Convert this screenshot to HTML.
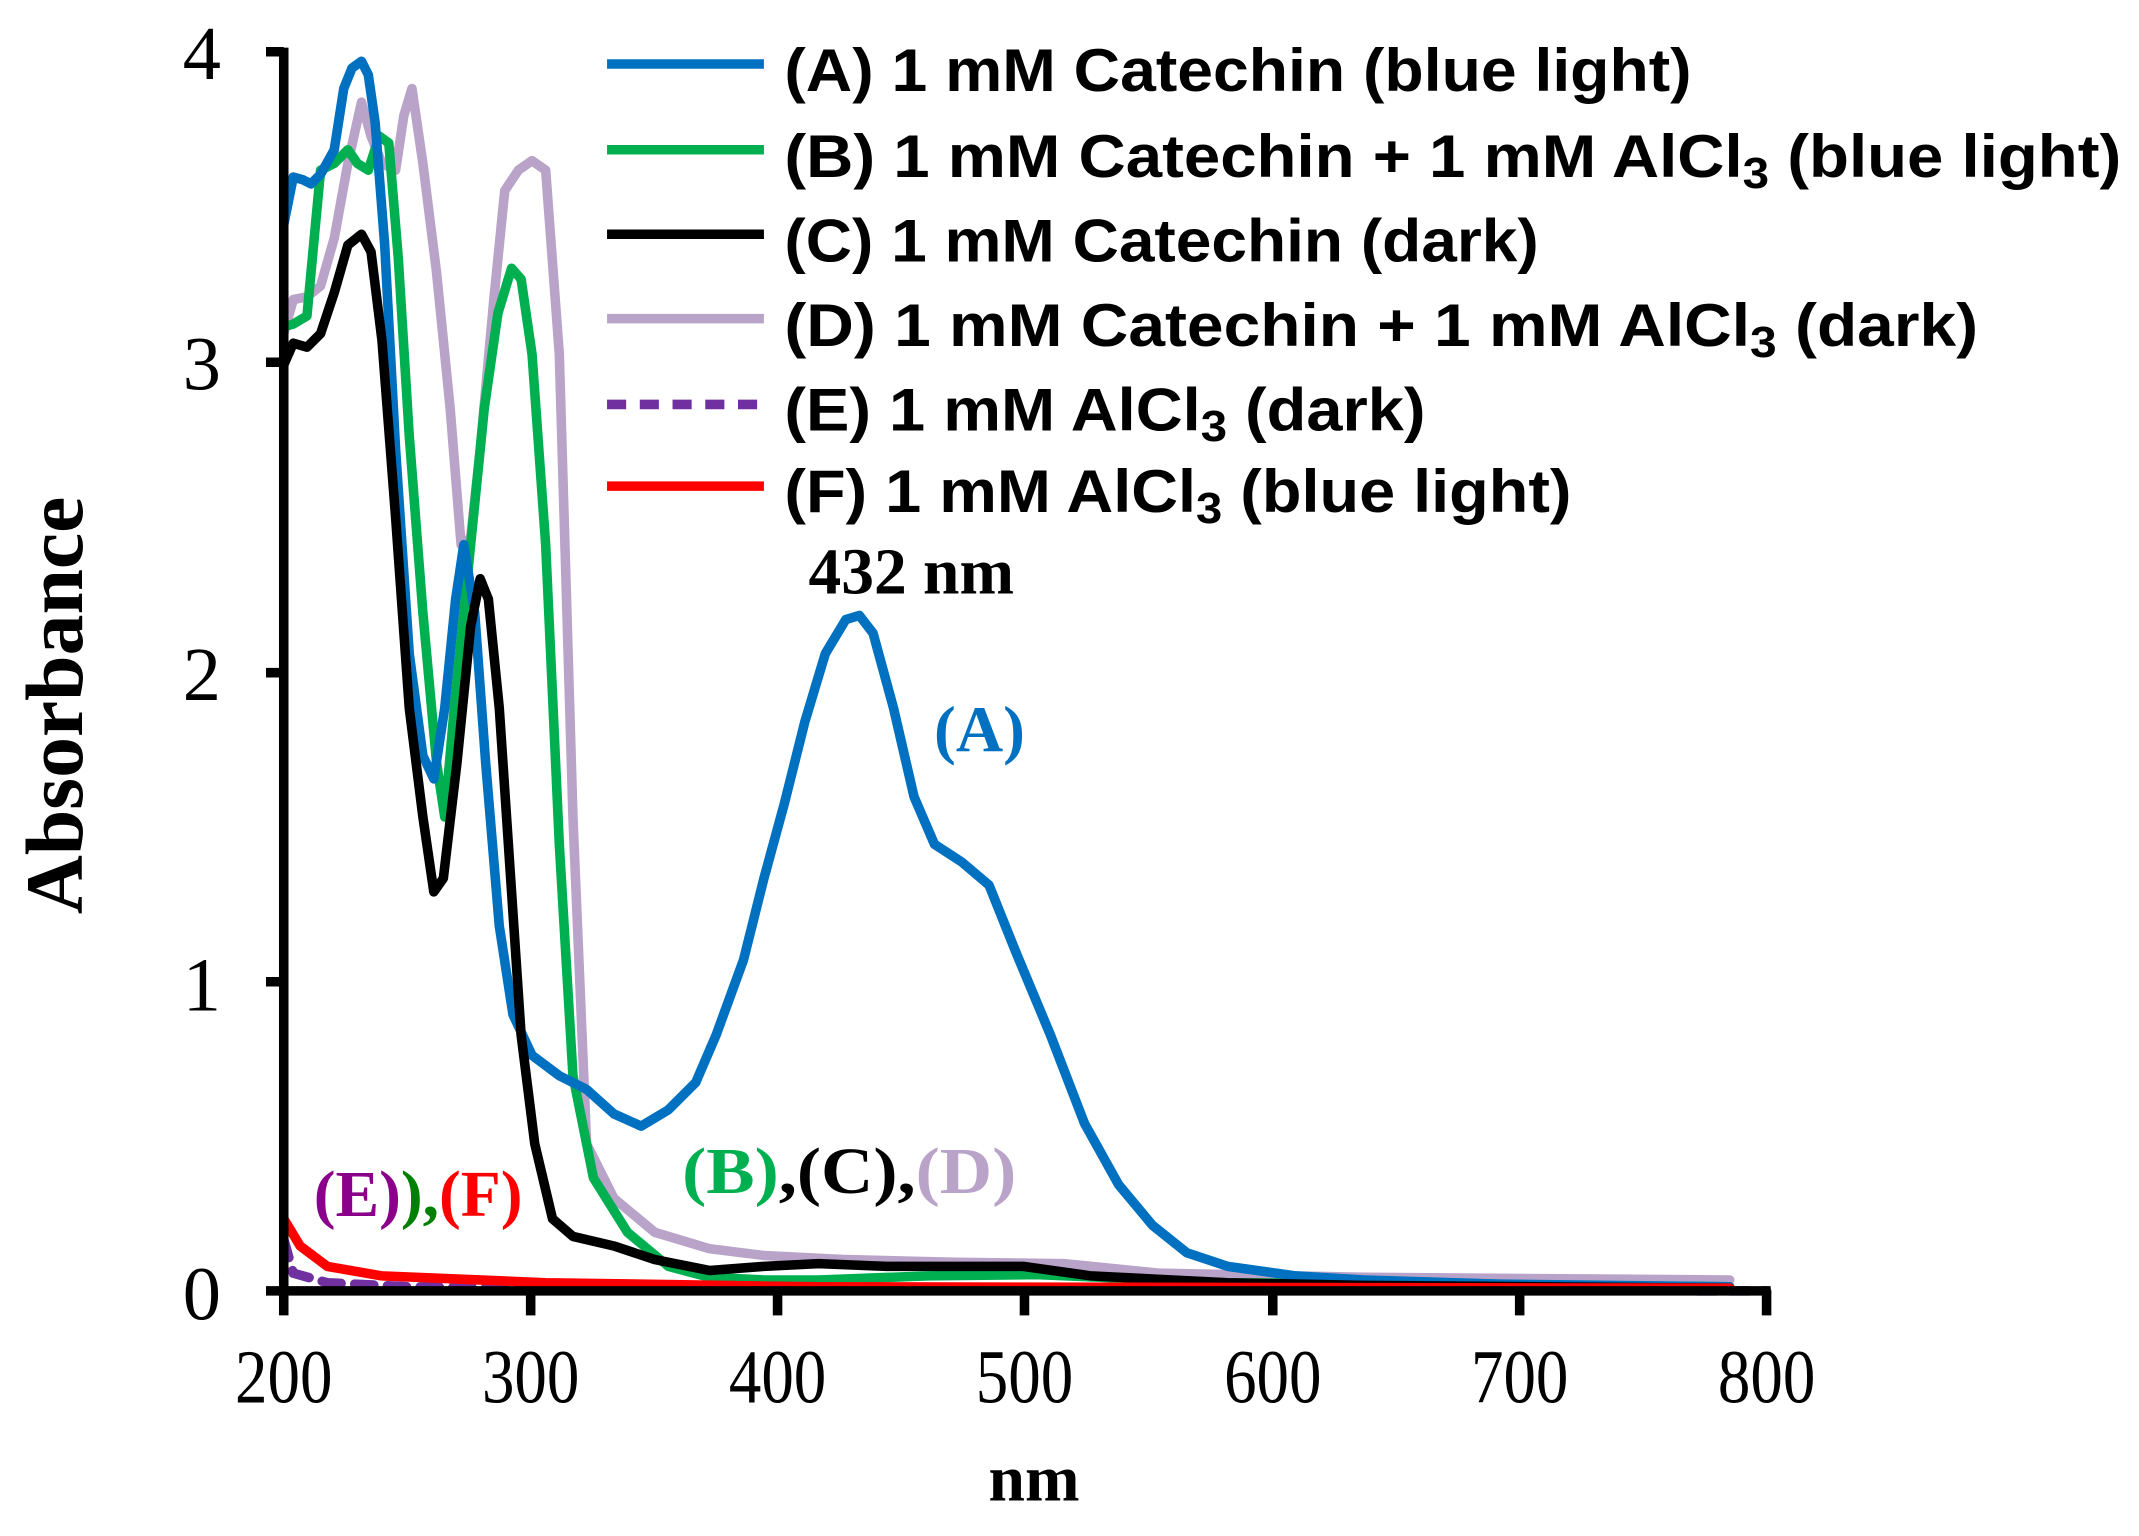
<!DOCTYPE html>
<html><head><style>html,body{margin:0;padding:0;background:#fff}svg{display:block}</style></head><body>
<svg width="2139" height="1536" viewBox="0 0 1568 1128" preserveAspectRatio="none" xmlns="http://www.w3.org/2000/svg">
<rect width="1568" height="1128" fill="#fff"/>
<g fill="none" stroke-width="7" stroke-linejoin="round" stroke-linecap="round">
<polyline stroke="#b9a3c9" points="208,245 215,220 225,218 235,210 245,175 255,120 265,75 272,100 280,120 290,125 296,85 302,65 310,120 320,200 330,300 338,400 345,395 352,330 362,220 370,140 380,125 390,118 400,125 410,260 420,600 430,840 450,880 480,905 520,917 560,922 620,925 700,927 780,928 850,935 1000,938 1268,940"/>
<polyline stroke="#00b050" points="208,240 215,238 225,232 235,125 245,120 255,110 262,120 270,125 278,100 285,105 292,190 300,320 310,450 320,560 326,600 333,520 345,400 355,300 365,230 375,197 382,205 390,260 400,400 410,620 420,790 435,865 460,905 490,930 520,938 560,940 600,940 680,937 760,936 900,942 1268,945"/>
<polyline stroke="#0070c0" points="208,165 215,130 222,132 228,135 235,128 245,110 252,65 258,50 265,45 270,55 275,90 282,180 290,330 300,480 310,555 318,572 326,520 334,440 340,400 348,450 356,560 366,680 376,745 390,775 410,790 430,800 450,818 470,827 490,815 510,795 525,760 545,705 560,645 575,590 590,530 605,480 620,455 630,452 640,465 655,520 670,585 685,620 705,633 725,650 745,700 770,760 795,825 820,870 845,900 870,920 900,930 950,937 1000,940 1100,943 1268,945"/>
<polyline stroke="#000" points="208,268 215,252 225,255 235,245 245,215 255,180 265,172 272,185 280,250 290,380 300,520 310,600 318,655 325,645 335,560 345,460 352,425 358,440 366,520 374,640 382,760 392,840 405,895 420,908 450,915 480,925 520,933 560,930 600,928 650,930 700,930 750,930 800,937 900,942 1000,944 1268,946"/>
<polyline stroke="#7030a0" stroke-dasharray="14,10" points="208,910 215,935 240,942 300,945 500,947 1295,948"/>
<polyline stroke="#ff0000" points="208,895 220,915 240,930 280,937 400,942 600,945 1268,946"/>
</g>
<g stroke="#000" stroke-width="7">
<line x1="208" y1="35" x2="208" y2="951"/>
<line x1="205" y1="948" x2="1298" y2="948"/>
<line x1="195" y1="38" x2="208" y2="38"/><line x1="195" y1="266" x2="208" y2="266"/><line x1="195" y1="494" x2="208" y2="494"/><line x1="195" y1="721" x2="208" y2="721"/><line x1="195" y1="948" x2="208" y2="948"/>
<line x1="208" y1="948" x2="208" y2="966"/><line x1="389" y1="948" x2="389" y2="966"/><line x1="570" y1="948" x2="570" y2="966"/><line x1="751" y1="948" x2="751" y2="966"/><line x1="933" y1="948" x2="933" y2="966"/><line x1="1114" y1="948" x2="1114" y2="966"/><line x1="1295" y1="948" x2="1295" y2="966"/>
</g>
<g font-family="Liberation Serif, serif" font-size="56" fill="#000">
<g text-anchor="end"><text x="162" y="58">4</text><text x="162" y="286">3</text><text x="162" y="514">2</text><text x="162" y="742">1</text><text x="162" y="969">0</text></g>
<g text-anchor="middle">
<text transform="translate(208,1030) scale(0.85,1)">200</text><text transform="translate(389,1030) scale(0.85,1)">300</text><text transform="translate(570,1030) scale(0.85,1)">400</text><text transform="translate(751,1030) scale(0.85,1)">500</text><text transform="translate(933,1030) scale(0.85,1)">600</text><text transform="translate(1114,1030) scale(0.85,1)">700</text><text transform="translate(1295,1030) scale(0.85,1)">800</text></g>
<text x="758" y="1102" text-anchor="middle" font-weight="bold" font-size="48">nm</text>
<text transform="translate(60,518) rotate(-90)" text-anchor="middle" font-weight="bold" font-size="60">Absorbance</text>
<text x="668" y="436" text-anchor="middle" font-weight="bold" font-size="48">432 nm</text>
<text x="718" y="552" text-anchor="middle" font-weight="bold" font-size="48" fill="#0070c0">(A)</text>
<text x="500" y="876" font-weight="bold" font-size="48" textLength="245" lengthAdjust="spacingAndGlyphs"><tspan fill="#00b050">(B)</tspan><tspan fill="#000">,(C),</tspan><tspan fill="#b9a3c9">(D)</tspan></text>
<text x="230" y="893" font-weight="bold" font-size="48" textLength="153" lengthAdjust="spacingAndGlyphs"><tspan fill="#8b008b">(E)</tspan><tspan fill="#008000">),</tspan><tspan fill="#ff0000">(F)</tspan></text>
</g>
<g stroke-width="7">
<line x1="445" y1="47" x2="560" y2="47" stroke="#0070c0"/>
<line x1="445" y1="110" x2="560" y2="110" stroke="#00b050"/>
<line x1="445" y1="172" x2="560" y2="172" stroke="#000"/>
<line x1="445" y1="234" x2="560" y2="234" stroke="#b9a3c9"/>
<line x1="445" y1="297" x2="560" y2="297" stroke="#7030a0" stroke-dasharray="14,10"/>
<line x1="445" y1="357" x2="560" y2="357" stroke="#ff0000"/>
</g>
<g font-family="Liberation Sans, sans-serif" font-weight="bold" font-size="44" fill="#000">
<text x="575" y="67" textLength="665" lengthAdjust="spacingAndGlyphs">(A) 1 mM Catechin (blue light)</text>
<text x="575" y="130" textLength="980" lengthAdjust="spacingAndGlyphs">(B) 1 mM Catechin + 1 mM AlCl<tspan dy="8" font-size="32">3</tspan><tspan dy="-8">  (blue light)</tspan></text>
<text x="575" y="192" textLength="553" lengthAdjust="spacingAndGlyphs">(C) 1 mM Catechin (dark)</text>
<text x="575" y="254" textLength="875" lengthAdjust="spacingAndGlyphs">(D) 1 mM Catechin + 1 mM AlCl<tspan dy="8" font-size="32">3</tspan><tspan dy="-8">  (dark)</tspan></text>
<text x="575" y="316" textLength="470" lengthAdjust="spacingAndGlyphs">(E) 1 mM AlCl<tspan dy="8" font-size="32">3</tspan><tspan dy="-8"> (dark)</tspan></text>
<text x="575" y="376" textLength="577" lengthAdjust="spacingAndGlyphs">(F) 1 mM AlCl<tspan dy="8" font-size="32">3</tspan><tspan dy="-8"> (blue light)</tspan></text>
</g>
</svg>
</body></html>
